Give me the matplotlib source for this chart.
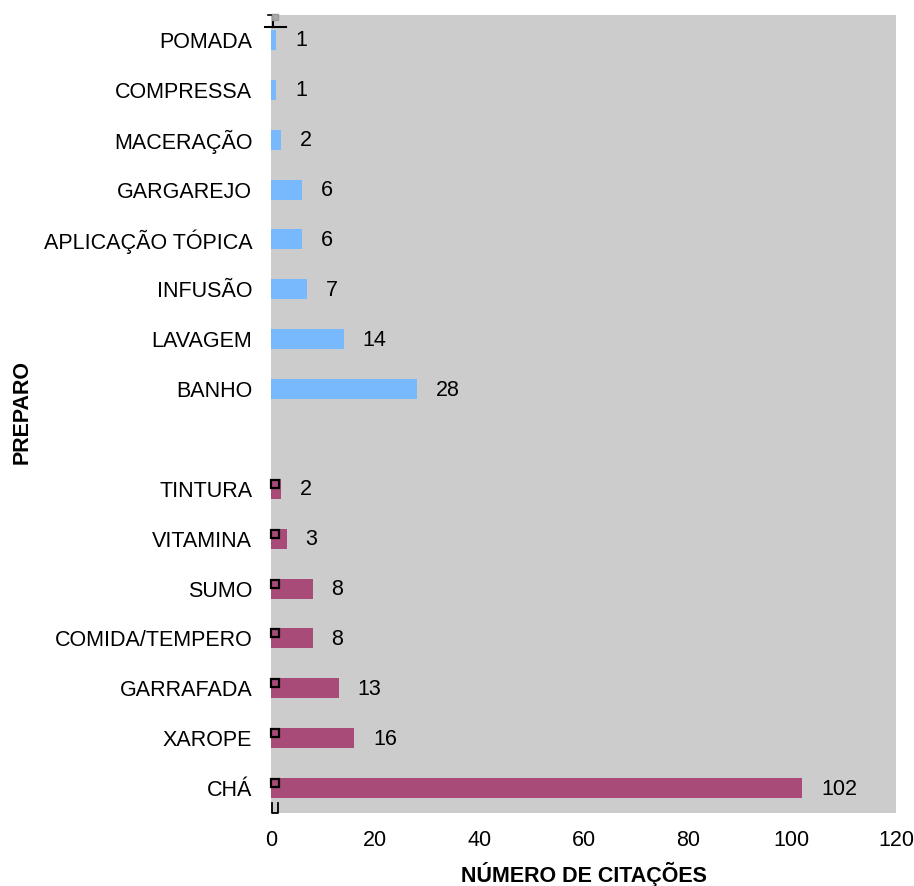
import matplotlib
matplotlib.use('Agg')
import matplotlib.pyplot as plt
import numpy as np

plt.rcParams['font.family'] = ['Liberation Sans', 'DejaVu Sans']

# external-use preparations (top group)
ext_labels = ['POMADA', 'COMPRESSA', 'MACERAÇÃO', 'GARGAREJO', 'APLICAÇÃO TÓPICA',
              'INFUSÃO', 'LAVAGEM', 'BANHO']
ext_values = [1, 1, 2, 6, 6, 7, 14, 28]
# internal-use preparations (bottom group)
int_labels = ['TINTURA', 'VITAMINA', 'SUMO', 'COMIDA/TEMPERO', 'GARRAFADA', 'XAROPE', 'CHÁ']
int_values = [2, 3, 8, 8, 13, 16, 102]

blue = '#78b8fd'
maroon = '#a84b78'
fs = 15.5

fig = plt.figure(figsize=(9.14, 8.86), dpi=100)
ax = fig.add_axes([271 / 914, 1 - 813 / 886, 625 / 914, 798 / 886])
ax.set_facecolor('#cccccc')

ext_pos = np.arange(len(ext_labels))
int_pos = np.arange(len(int_labels)) + len(ext_labels) + 1

ax.barh(ext_pos, ext_values, height=0.4, color=blue)
ax.barh(int_pos, int_values, height=0.4, color=maroon)

# small square markers at the start of the internal-use bars
ax.plot(np.full(len(int_pos), 0.8), int_pos - 0.1, 's', ms=6, mfc=maroon,
        mec='black', mew=1.6, clip_on=False)

for p, v in zip(ext_pos, ext_values):
    ax.text(v + 3.6, p + 0.02, str(v), va='center', ha='left', fontsize=fs)
for p, v in zip(int_pos, int_values):
    ax.text(v + 3.6, p + 0.02, str(v), va='center', ha='left', fontsize=fs)

# stray marks at the top and bottom of the axis
ax.plot([-1.1, 2.8], [-0.25, -0.25], color='black', lw=1.5, clip_on=False)
ax.plot([0.3, 0.3], [-0.5, -0.25], color='black', lw=1.5, clip_on=False)
ax.plot([-0.6, 0.3], [-0.5, -0.5], color='black', lw=1.2, clip_on=False)
ax.plot([0.7], [-0.45], 's', ms=5, mfc='#aaaaaa', mec='#999999', clip_on=False)
ax.plot([0.2, 0.2, 1.3, 1.3], [15.3, 15.5, 15.5, 15.3], color='black', lw=1.3, clip_on=False)

ax.set_xlim(0, 120)
ax.set_ylim(15.5, -0.5)
ax.set_xticks(np.arange(0, 121, 20))
ax.set_yticks(list(ext_pos) + list(int_pos))
ax.set_yticklabels(ext_labels + int_labels)
ax.tick_params(axis='both', length=0, labelsize=fs)
ax.tick_params(axis='y', pad=13.5)
ax.tick_params(axis='x', pad=12)
for s in ax.spines.values():
    s.set_visible(False)

fig.text(584 / 914, 1 - 874 / 886, 'NÚMERO DE CITAÇÕES', fontsize=fs,
         fontweight='bold', ha='center', va='center')
fig.text(22 / 914, 1 - 412 / 886, 'PREPARO', rotation=90, fontsize=fs,
         fontweight='bold', ha='center', va='center')

fig.savefig('out.png', dpi=100)
